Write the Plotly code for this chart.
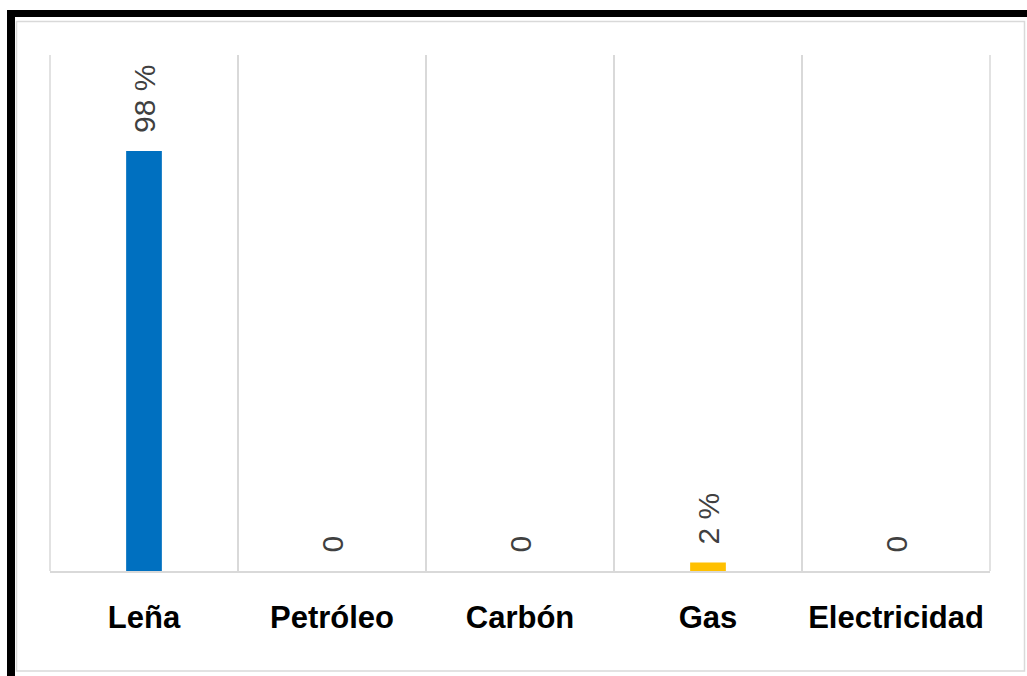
import plotly.graph_objects as go

categories = ["Leña", "Petróleo", "Carbón", "Gas", "Electricidad"]
values = [98, 0, 0, 2, 0]
labels = ["98 %", "0", "0", "2 %", "0"]
colors = ["#0070C0", "#0070C0", "#0070C0", "#FFC000", "#0070C0"]

W, H = 1027, 676
L, R, T, B = 50, 990, 55, 571  # plot area in pixels


def px_x(x):
    return (x - L) / (R - L)


def px_y(y):
    return (B - y) / (B - T)


fig = go.Figure()
fig.add_trace(go.Bar(
    x=categories, y=values, marker=dict(color=colors, line=dict(width=0)),
    width=0.19, hoverinfo="skip",
))

for c, v, t in zip(categories, values, labels):
    fig.add_annotation(
        x=c, y=v, xref="x", yref="y", text=t, showarrow=False,
        textangle=-90, yanchor="bottom", xanchor="center", yshift=16,
        font=dict(family="Liberation Sans, Arial, sans-serif", size=30, color="#404040"),
    )

grid = dict(color="#d9d9d9", width=1.5)
shapes = [
    # black outer frame (left and top)
    dict(type="rect", xref="paper", yref="paper",
         x0=px_x(7), x1=px_x(15), y0=px_y(676), y1=px_y(10),
         fillcolor="black", line=dict(width=0), layer="above"),
    dict(type="rect", xref="paper", yref="paper",
         x0=px_x(7), x1=px_x(1027), y0=px_y(17), y1=px_y(10),
         fillcolor="black", line=dict(width=0), layer="above"),
    # inner light grey frame
    dict(type="rect", xref="paper", yref="paper",
         x0=px_x(16.5), x1=px_x(1024.5), y0=px_y(671), y1=px_y(21.5),
         line=dict(color="#d9d9d9", width=1.5), layer="below"),
    # outer vertical gridlines of plot area
    dict(type="line", xref="paper", yref="paper", x0=0, x1=0, y0=0, y1=1,
         line=grid, layer="below"),
    dict(type="line", xref="paper", yref="paper", x0=1, x1=1, y0=0, y1=1,
         line=grid, layer="below"),
]

fig.update_layout(
    width=W, height=H,
    margin=dict(l=L, r=W - R, t=T, b=H - B, pad=0),
    paper_bgcolor="white", plot_bgcolor="white",
    showlegend=False,
    shapes=shapes,
    xaxis=dict(
        type="category", tickson="boundaries", showgrid=True,
        gridcolor="#d9d9d9", gridwidth=1.5,
        showline=True, linecolor="#d9d9d9", linewidth=1.5,
        ticks="", ticklabelstandoff=18,
        tickfont=dict(family="Liberation Sans, Arial, sans-serif", size=31,
                      color="black", weight="bold"),
        range=[-0.5, 4.5], fixedrange=True,
    ),
    yaxis=dict(
        range=[0, 120.4], showgrid=False, showticklabels=False,
        zeroline=False, showline=False, fixedrange=True,
    ),
)

fig.write_html(
    "out.html",
    config={"displayModeBar": False},
    post_script="document.body.style.margin='0';document.body.style.overflow='hidden';",
)
